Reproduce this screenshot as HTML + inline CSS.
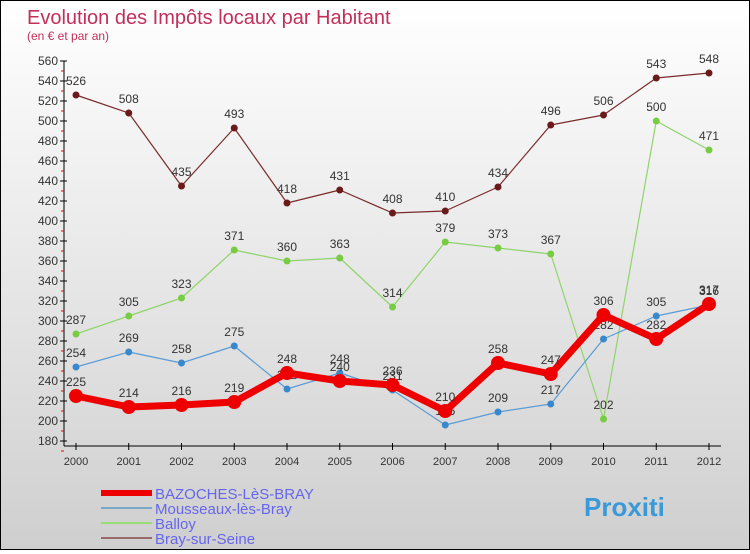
<!DOCTYPE html>
<html><head><meta charset="utf-8"><style>
body{margin:0;width:750px;height:550px;overflow:hidden;font-family:"Liberation Sans",sans-serif}
#c{position:absolute;left:0;top:0;width:748px;height:548px;border:1px solid #000;background:linear-gradient(#fff,#cfcfcf)}
</style></head><body>
<div id="c">
<svg id="s" width="748" height="548" xmlns="http://www.w3.org/2000/svg">
<text x="26" y="23" font-size="20" fill="#c2305a">Evolution des Impôts locaux par Habitant</text>
<text x="26" y="39" font-size="12" fill="#c2305a">(en € et par an)</text>
<g id="axes"></g><g id="series"></g><g id="legend"></g>
</svg></div>
<script>
const years=["2000","2001","2002","2003","2004","2005","2006","2007","2008","2009","2010","2011","2012"];
const yTicks=[180,200,220,240,260,280,300,320,340,360,380,400,420,440,460,480,500,520,540,560];
const bazoches=[225,214,216,219,248,240,236,210,258,247,306,282,317];
const mousseaux=[254,269,258,275,232,248,231,196,209,217,282,305,316];
const balloy=[287,305,323,371,360,363,314,379,373,367,202,500,471];
const bray=[526,508,435,493,418,431,408,410,434,496,506,543,548];
const NS="http://www.w3.org/2000/svg";
function X(i){return 75+i*52.75;}
function Y(v){return 620-v;}
function mk(t,a,p){const e=document.createElementNS(NS,t);for(const k in a)e.setAttribute(k,a[k]);p.appendChild(e);return e;}
const ax=document.getElementById('axes');
let yl=mk('line',{x1:63,y1:Y(560),x2:63,y2:Y(180)+5,stroke:'#000'},ax);


let xl=mk('line',{x1:63,y1:Y(180)+5,x2:720,y2:Y(180)+5,stroke:'#000'},ax);


yTicks.forEach(v=>{
 mk('line',{x1:59,y1:Y(v),x2:66,y2:Y(v),stroke:'#000'},ax);
 mk('line',{x1:60,y1:Y(v)+10,x2:63,y2:Y(v)+10,stroke:'#e00'},ax);
 const t=mk('text',{x:57,y:Y(v)+4,'font-size':12,fill:'#333','text-anchor':'end'},ax);t.textContent=v;
 
 
});
years.forEach((y,i)=>{
 mk('line',{x1:X(i),y1:Y(180)+2,x2:X(i),y2:Y(180)+9,stroke:'#000'},ax);
 const t=mk('text',{x:X(i),y:Y(180)+24,'font-size':11,fill:'#333','text-anchor':'middle'},ax);t.textContent=y;
 
 
});
const sg=document.getElementById('series');
function draw(data,color,w,r,name,dot){
 const g=mk('g',{},sg);
 
 
 mk('polyline',{points:data.map((v,i)=>X(i)+','+Y(v)).join(' '),fill:'none',stroke:color,'stroke-width':w,'stroke-linejoin':'round'},g);
 data.forEach((v,i)=>{
  const c=mk('circle',{cx:X(i),cy:Y(v),r:r,fill:dot},g);
  
  
  const t=mk('text',{x:X(i),y:Y(v)-10,'font-size':12,fill:'#333','text-anchor':'middle'},g);t.textContent=v;
  
  
 });
}
draw(bray,'#7a2a2a',1.2,3.5,'series-bray-sur-seine','#6a1a1a');
draw(balloy,'#8fd46a',1.2,3.5,'series-balloy','#77cc44');
draw(mousseaux,'#5b9bd5',1.2,3.5,'series-mousseaux','#3a88cc');
draw(bazoches,'#ee0000',7,7,'series-bazoches','#ee0000');
const lg=document.getElementById('legend');
[["BAZOCHES-LèS-BRAY","#ee0000",6],["Mousseaux-lès-Bray","#7aa8c8",2],["Balloy","#99dd77",2],["Bray-sur-Seine","#9a6a6a",2]].forEach((e,i)=>{
 const y=492+i*15;
 const g=mk('g',{},lg);
 
 
 mk('line',{x1:100,y1:y,x2:151,y2:y,stroke:e[1],'stroke-width':e[2]},g);
 const t=mk('text',{x:154,y:y+6,'font-size':15,fill:'#6666ee'},g);t.textContent=e[0];
});
const p=mk('text',{x:583,y:515,'font-size':26,'font-weight':'bold',fill:'#3a9ad9'},lg);
p.textContent='Proxiti';


</script>
</body></html>
